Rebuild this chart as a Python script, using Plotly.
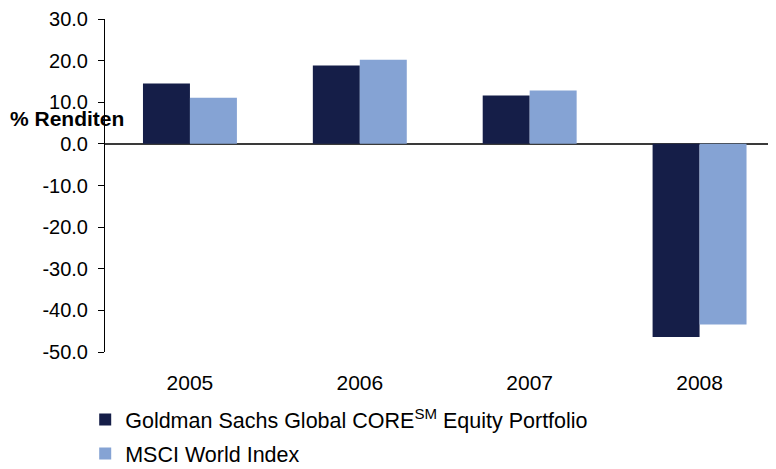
import plotly.graph_objects as go

years = ["2005", "2006", "2007", "2008"]
gs_core = [14.5, 18.8, 11.6, -46.4]
msci_world = [11.1, 20.2, 12.8, -43.4]
series_names = ["Goldman Sachs Global CORE<sup>SM</sup> Equity Portfolio", "MSCI World Index"]
tick_vals = [-50, -40, -30, -20, -10, 0, 10, 20, 30]
tick_text = ["-50.0", "-40.0", "-30.0", "-20.0", "-10.0", "0.0", "10.0", "20.0", "30.0"]

FONT = "Liberation Sans, Arial, sans-serif"

fig = go.Figure()
fig.add_trace(go.Bar(x=years, y=gs_core, name=series_names[0], marker_color="#151e48",
                     marker_line_width=0, legendgroup="a"))
fig.add_trace(go.Bar(x=years, y=msci_world, name=series_names[1], marker_color="#85a3d4",
                     marker_line_width=0, legendgroup="b"))

# page body has an 8px margin, so the figure is 8px smaller and margins shifted
fig.update_layout(
    width=768, height=461,
    margin=dict(l=97, r=0, t=11, b=117, autoexpand=False),
    paper_bgcolor="white", plot_bgcolor="white",
    font=dict(family=FONT, size=20, color="black"),
    barmode="group", bargap=0.447, bargroupgap=0,
    showlegend=True,
    legend=dict(orientation="v", x=-0.0295, xanchor="left", y=-0.141, yanchor="top",
                traceorder="grouped", tracegroupgap=3, font=dict(size=21.5),
                itemsizing="constant", bgcolor="rgba(0,0,0,0)"),
    annotations=[dict(text="<b>% Renditen</b>", xref="paper", yref="y", x=-0.1445, y=6,
                      xanchor="left", yanchor="middle", showarrow=False,
                      font=dict(size=21, family=FONT, color="black"))],
)
fig.update_xaxes(type="category", range=[-0.5, 3.45], showline=False, ticks="",
                 showgrid=False, ticklabelstandoff=16, tickfont=dict(size=21))
fig.update_yaxes(range=[-50, 30], tickvals=tick_vals, ticktext=tick_text, showgrid=False,
                 showline=True, linecolor="black", linewidth=1, ticks="outside", ticklen=6,
                 tickcolor="black", zeroline=True, zerolinecolor="#3a3a3a", zerolinewidth=2,
                 ticklabelstandoff=6, tickfont=dict(size=20))

fig.write_html("out.html")
